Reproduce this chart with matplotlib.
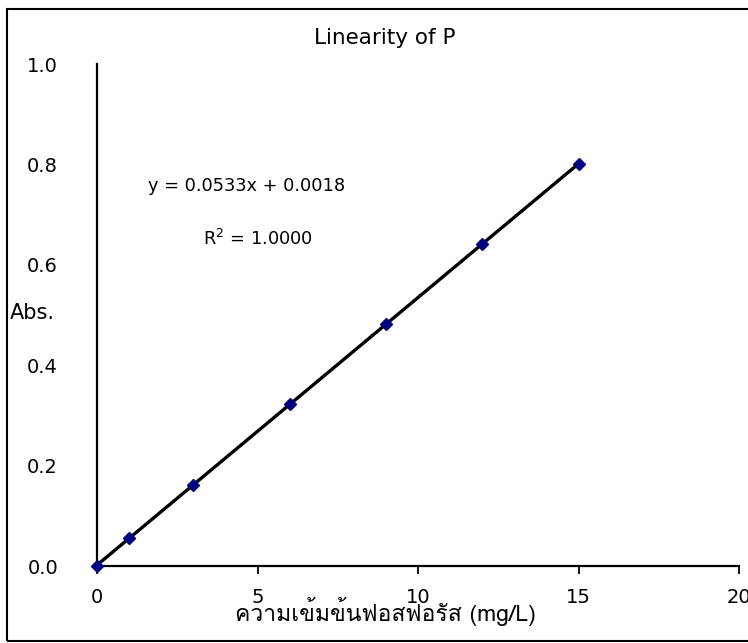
import matplotlib
matplotlib.use('Agg')
import matplotlib.pyplot as plt
import numpy as np
from matplotlib import font_manager
from matplotlib.ft2font import FT2Font
from matplotlib.patches import Rectangle

# data: concentration (mg/L) and absorbance
conc = np.array([0, 1, 3, 6, 9, 12, 15], dtype=float)
absorb = np.array([0.000, 0.055, 0.162, 0.322, 0.482, 0.641, 0.801])
slope, intercept = 0.0533, 0.0018
eq_text = 'y = 0.0533x + 0.0018'
r2_text = 'R$^2$ = 1.0000'
title = 'Linearity of P'
xlabel = 'ความเข้มข้นฟอสฟอรัส (mg/L)'
ylabel = 'Abs.'
xticks = [0, 5, 10, 15, 20]
yticks = [0.0, 0.2, 0.4, 0.6, 0.8, 1.0]


def thai_font():
    # หาฟอนต์ที่มีอักษรไทย
    for f in font_manager.fontManager.ttflist:
        try:
            if FT2Font(f.fname).get_char_index(ord('ค')):
                return f.name
        except Exception:
            pass
    return 'DejaVu Sans'


plt.rcParams['font.family'] = ['DejaVu Sans']
fig = plt.figure(figsize=(7.48, 6.43), dpi=100)
ax = fig.add_axes([97 / 748, 1 - 566 / 643, 642 / 748, 502 / 643])

# เส้นแนวโน้ม
xfit = np.array([conc.min(), conc.max()])
ax.plot(xfit, slope * xfit + intercept, color='black', lw=2.4, zorder=2)
ax.plot(conc, absorb, 'D', color='#000080', ms=6, zorder=3, clip_on=False)

ax.set_xlim(0, 20)
ax.set_ylim(0, 1.0)
ax.set_xticks(xticks)
ax.set_yticks(yticks)
ax.set_yticklabels([f'{v:.1f}' for v in yticks])
ax.tick_params(axis='x', direction='out', length=6, width=1.3, pad=10, labelsize=14)
ax.tick_params(axis='y', length=0, pad=28, labelsize=14)
for s in ['top', 'right']:
    ax.spines[s].set_visible(False)
ax.spines['left'].set_linewidth(1.6)
ax.spines['bottom'].set_linewidth(1.6)

ax.text(1.6, 0.757, eq_text, fontsize=12.8, va='center')
ax.text(3.3, 0.652, r2_text, fontsize=12.8, va='center')

ax.set_xlabel(xlabel, fontsize=16.5, family=[thai_font(), 'DejaVu Sans'], va='center')
ax.xaxis.set_label_coords(0.449, -0.09)
ax.set_ylabel(ylabel, fontsize=15, rotation=0, ha='left', va='center')
ax.yaxis.set_label_coords(-0.1355, 0.504)

fig.text(385 / 748, 1 - 38 / 643, title, fontsize=15.5, ha='center', va='center')

# กรอบรอบรูป
fig.patches.append(Rectangle((7 / 748, 2 / 643), 1.2, 632 / 643, transform=fig.transFigure,
                             fill=False, edgecolor='black', lw=1.5))

fig.savefig('out.png', dpi=100)
